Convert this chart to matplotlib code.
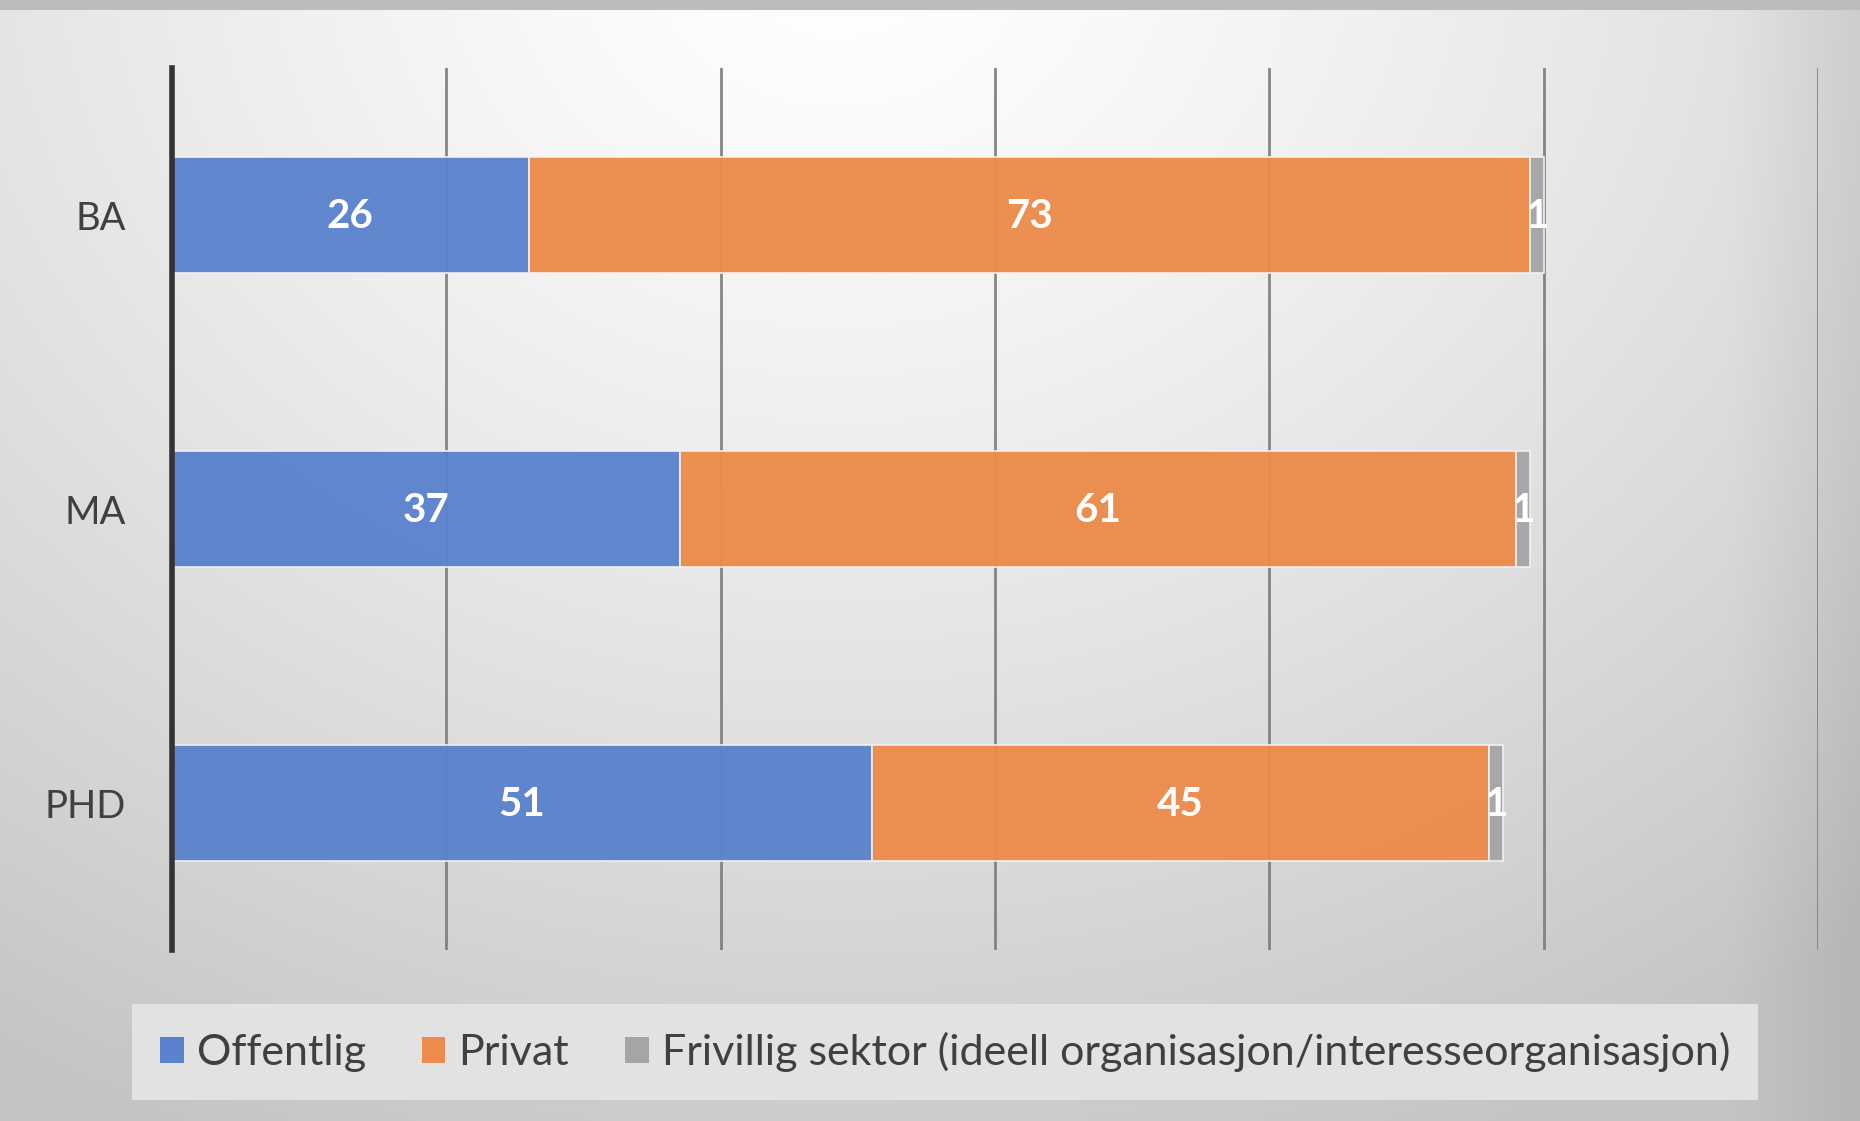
import numpy as np
import matplotlib
matplotlib.use("Agg")
import matplotlib.pyplot as plt
from matplotlib.patches import Patch

categories = ["BA", "MA", "PHD"]
series_names = ["Offentlig", "Privat", "Frivillig sektor (ideell organisasjon/interesseorganisasjon)"]
offentlig = [26, 37, 51]
privat = [73, 61, 45]
frivillig = [1, 1, 1]
xticks = [0, 20, 40, 60, 80, 100, 120]

colors = ["#5a82cd", "#ec8b4b", "#a5a5a5"]
FONT = "Lato"
plt.rcParams["font.family"] = [FONT, "DejaVu Sans"]

W, H = 1860, 1121
fig = plt.figure(figsize=(W / 100, H / 100), dpi=100)

# background gradient
bg = fig.add_axes([0, 0, 1, 1], zorder=-10)
yy, xx = np.mgrid[0:H, 0:W]
cx, cy = 0.45 * W, -0.05 * H
d = np.sqrt(((xx - cx) / (0.75 * W)) ** 2 + ((yy - cy) / (1.05 * H)) ** 2)
val = 1.0 - 0.20 * np.clip(d, 0, 1.2) ** 1.3
val = np.clip(val, 0.77, 1.0)
val = val - 0.06 * np.clip((xx - 0.93 * W) / (0.07 * W), 0, 1)
val[:10, :] = 0.74
img = np.dstack([val, val, val])
bg.imshow(img, aspect="auto", extent=[0, 1, 0, 1], origin="upper")
bg.axis("off")

ax = fig.add_axes([172 / W, 1 - 950 / H, (1818 - 172) / W, (950 - 68) / H])
ax.patch.set_alpha(0)

y = np.arange(len(categories))
left = np.zeros(len(categories))
for vals, col, name in zip([offentlig, privat, frivillig], colors, series_names):
    vals = np.array(vals, dtype=float)
    bars = ax.barh(y, vals, left=left, height=0.395, color=col, alpha=0.96,
                   edgecolor="#f2f2f2", linewidth=1.2, label=name, zorder=3)
    for b, v in zip(bars, vals):
        ax.text(b.get_x() + b.get_width() / 2, b.get_y() + b.get_height() / 2 + 0.005,
                f"{int(v)}", ha="center", va="center", color="white",
                fontsize=29, fontweight="bold", zorder=4)
    left += vals

ax.set_xlim(0, 120)
ax.set_ylim(2.5, -0.5)
ax.set_xticks(xticks)
ax.set_xticklabels([])
ax.tick_params(axis="x", length=0)
ax.set_yticks(y)
ax.set_yticklabels(categories, fontsize=27.5, color="#404040")
ax.tick_params(axis="y", length=0, pad=33)
ax.grid(axis="x", color="#7a7a7a", linewidth=2, alpha=0.9, zorder=0)
for s in ["top", "right", "bottom"]:
    ax.spines[s].set_visible(False)
ax.spines["left"].set_color("#333333")
ax.spines["left"].set_linewidth(4)
ax.spines["left"].set_zorder(5)

handles = [Patch(facecolor=c, edgecolor="none") for c in colors]
leg = fig.legend(handles, series_names, loc="center", bbox_to_anchor=(945 / W, 1 - 1052 / H),
                 ncol=3, fontsize=31, frameon=True, fancybox=False,
                 handlelength=0.55, handleheight=0.55, handletextpad=0.3, columnspacing=1.3,
                 borderpad=0.65)
leg.get_frame().set_facecolor("#e2e2e2")
leg.get_frame().set_edgecolor("none")
leg.get_frame().set_alpha(1)
for t in leg.get_texts():
    t.set_color("#404040")

fig.savefig("out.png", dpi=100)
